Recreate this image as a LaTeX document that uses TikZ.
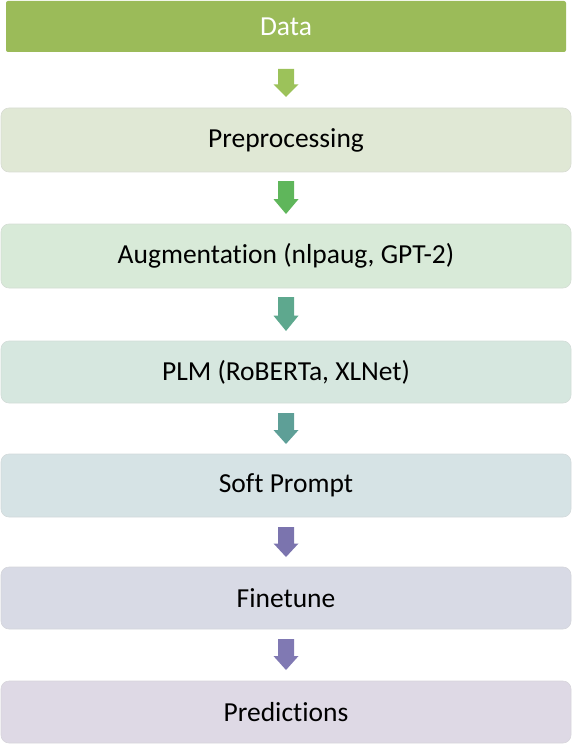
\documentclass[tikz,border=0pt]{standalone}
\usepackage{fontspec}
\setmainfont[Ligatures={NoCommon}]{Carlito}
\begin{document}
\begin{tikzpicture}[x=1pt,y=-1pt,
  stage/.style={draw=#1!85!black!60!white, line width=0.6pt, rounded corners=8pt, fill=#1},
  lbl/.style={font=\fontsize{27.5}{30}\selectfont, text=black}]
\definecolor{cData}{HTML}{9BBB59}
\definecolor{cPre}{HTML}{E0E8D5}
\definecolor{cAug}{HTML}{D8EAD8}
\definecolor{cPLM}{HTML}{D6E7DF}
\definecolor{cSoft}{HTML}{D6E3E5}
\definecolor{cFine}{HTML}{D8DAE5}
\definecolor{cPred}{HTML}{DED9E5}
\definecolor{aA}{HTML}{9CC25A}
\definecolor{aB}{HTML}{5FB65B}
\definecolor{aC}{HTML}{5EA88E}
\definecolor{aD}{HTML}{5E9F97}
\definecolor{aE}{HTML}{7B74AE}
\definecolor{aF}{HTML}{8079B3}
\useasboundingbox (0,0) rectangle (572,746);
% boxes
\fill[cData, rounded corners=2pt] (6,1) rectangle (566,52);
\node[lbl, text=white] (data) at (286,26.5) {Data};
\draw[stage=cPre] (1,108) rectangle (571,172);
\node[lbl] (pre) at (286,140) {Preprocessing};
\draw[stage=cAug] (1,224) rectangle (571,288);
\node[lbl] (aug) at (286,256) {Augmentation (nlpaug, GPT-2)};
\draw[stage=cPLM] (1,341) rectangle (571,403);
\node[lbl] (plm) at (286,372) {PLM (RoBERTa, XLNet)};
\draw[stage=cSoft] (1,454) rectangle (571,517);
\node[lbl] (soft) at (286,485.5) {Soft Prompt};
\draw[stage=cFine] (1,567) rectangle (571,629);
\node[lbl] (fine) at (286,598) {Finetune};
\draw[stage=cPred] (1,681) rectangle (571,743);
\node[lbl] (pred) at (286,712) {Predictions};
% arrows
\foreach \t/\b/\c in {69/97/aA, 181/214/aB, 297/331/aC, 413/444/aD, 527/557/aE, 639/670/aF}{
  \pgfmathsetmacro{\m}{\t+0.55*(\b-\t)}
  \fill[\c] (278,\t) -- (294,\t) -- (294,\m) -- (298.5,\m) -- (286,\b) -- (273.5,\m) -- (278,\m) -- cycle;
}
\end{tikzpicture}
\end{document}
